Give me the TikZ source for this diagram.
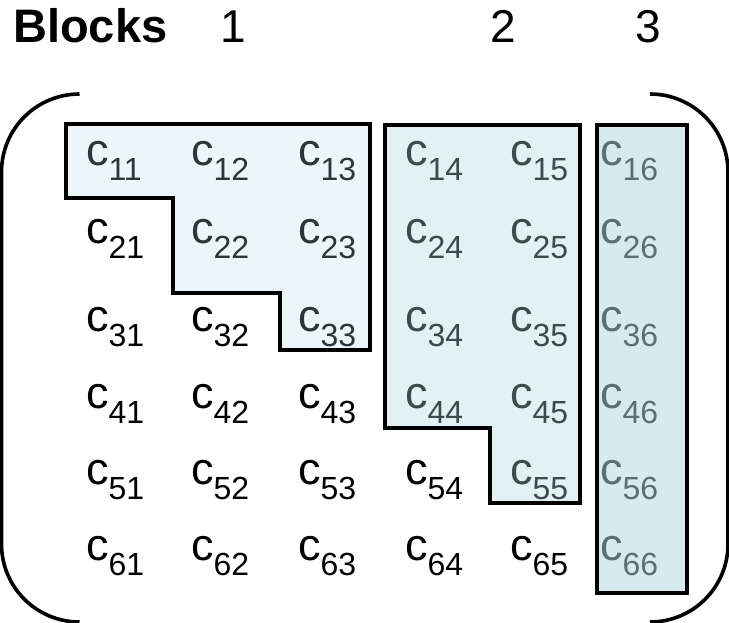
\documentclass[tikz,border=0pt]{standalone}
\usepackage{fontspec}
\setmainfont{Liberation Sans}
\definecolor{blockfill}{RGB}{178,214,224}
\newcommand{\entry}[1]{{\fontsize{45}{45}\selectfont c}\raisebox{-15pt}{\fontsize{32}{32}\selectfont #1}}
\begin{document}
\begin{tikzpicture}[x=1pt,y=-1pt,
  cell/.style={anchor=base west,inner sep=0pt,outer sep=0pt},
  head/.style={anchor=base,inner sep=0pt,font=\fontsize{46}{46}\selectfont},
  blockline/.style={draw=black,line width=3.6pt,line join=miter},
  bracket/.style={draw=black,line width=3.6pt}]
\useasboundingbox (0,0) rectangle (729,622);

% headings
\node[head,anchor=base west,font=\fontsize{47}{47}\selectfont\bfseries] (title) at (13,42) {Blocks};
\node[head] (h1) at (233,42) {1};
\node[head] (h2) at (503,42) {2};
\node[head] (h3) at (648,42) {3};

% matrix entries
\foreach \r/\y in {1/165,2/243,3/331,4/408,5/484,6/560}{
  \foreach \c/\x in {1/86,2/191,3/298,4/405,5/510,6/600}{
    \node[cell] (c\r\c) at (\x,\y) {\entry{\r\c}};
  }
}

% block 1: upper triangle of the leading 3x3 part
\path[blockline,fill=blockfill,fill opacity=0.25]
  (66,124) -- (370,124) -- (370,350) -- (280,350) -- (280,293)
  -- (173,293) -- (173,198) -- (66,198) -- cycle;
% block 2: columns 4-5
\path[blockline,fill=blockfill,fill opacity=0.35]
  (385,125) -- (580,125) -- (580,503) -- (490,503) -- (490,428)
  -- (385,428) -- cycle;
% block 3: column 6
\path[blockline,fill=blockfill,fill opacity=0.52]
  (597,125) rectangle (687,593);

% matrix brackets
\path[bracket] (79.5,94) .. controls (36.4,94) and (1.5,128.9) .. (1.5,172)
  -- (1.5,544) .. controls (1.5,587.1) and (36.4,622) .. (79.5,622);
\path[bracket] (650,94) .. controls (693.1,94) and (728,128.9) .. (728,172)
  -- (728,544) .. controls (728,587.1) and (693.1,622) .. (650,622);
\end{tikzpicture}
\end{document}
